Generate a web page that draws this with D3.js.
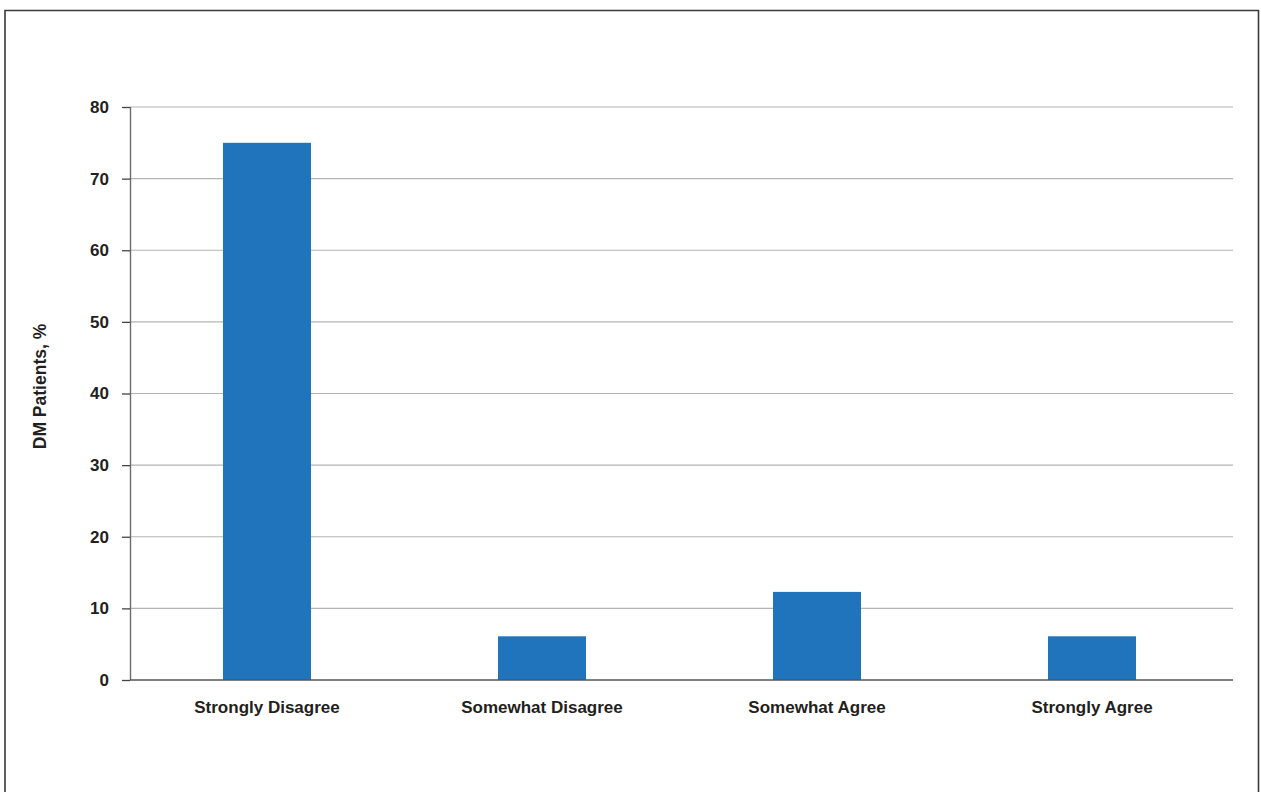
<!DOCTYPE html>
<html>
<head>
<meta charset="utf-8">
<script src="https://cdn.jsdelivr.net/npm/d3@7"></script>
<style>
  html, body { margin: 0; padding: 0; background: #fff; }
  svg { display: block; }
  text { font-family: "Liberation Sans", Arial, sans-serif; fill: #231f20; }
</style>
</head>
<body>
<svg id="chart" width="1261" height="792"></svg>
<script>
// Survey responses, share of DM patients (%)
const categories = ["Strongly Disagree", "Somewhat Disagree", "Somewhat Agree", "Strongly Agree"];
const values = [75, 6.1, 12.3, 6.1];
const yTicks = [0, 10, 20, 30, 40, 50, 60, 70, 80];
const yLabel = "DM Patients, %";

const svg = d3.select("#chart");
const W = 1261, H = 792;
const plot = { left: 130, right: 1233, top: 107, bottom: 680 };

// outer frame (bottom edge runs past the page)
svg.append("path")
  .attr("d", `M5,${H + 5} V10.5 H1258.5 V${H + 5}`)
  .attr("fill", "none")
  .attr("stroke", "#3a3a3a")
  .attr("stroke-width", 1.6);

const x = d3.scaleBand()
  .domain(categories)
  .range([plot.left - 0.5, plot.right - 3.5])
  .paddingInner(0.68)
  .paddingOuter(0.34);

const y = d3.scaleLinear()
  .domain([0, 80])
  .range([plot.bottom, plot.top]);

// horizontal gridlines
svg.append("g")
  .selectAll("line")
  .data(yTicks.filter(d => d > 0))
  .join("line")
  .attr("x1", plot.left)
  .attr("x2", plot.right)
  .attr("y1", d => y(d))
  .attr("y2", d => y(d))
  .attr("stroke", "#b4b4b4")
  .attr("stroke-width", 1.2);

// bars
svg.append("g")
  .selectAll("rect")
  .data(categories)
  .join("rect")
  .attr("x", d => x(d))
  .attr("width", x.bandwidth())
  .attr("y", (d, i) => y(values[i]))
  .attr("height", (d, i) => y(0) - y(values[i]))
  .attr("fill", "#1f74bb");

const labelFont = sel => sel
  .attr("font-size", 17)
  .attr("font-weight", 600)
  .attr("fill", "#262324")
  .style("font-family", "'Liberation Sans', Arial, sans-serif");

// y axis
const yAxis = svg.append("g")
  .attr("transform", `translate(${plot.left},0)`)
  .call(d3.axisLeft(y).tickValues(yTicks).tickSize(8).tickPadding(13).tickFormat(d3.format("d")));
yAxis.select(".domain").attr("stroke", "#6b6b6b").attr("stroke-width", 1.4).attr("d", `M0.5,${y(80)}V${y(0)}`);
yAxis.selectAll(".tick line").attr("stroke", "#444").attr("stroke-width", 1.3);
yAxis.selectAll(".tick text").call(labelFont);

// x baseline
svg.append("line")
  .attr("x1", plot.left)
  .attr("x2", plot.right)
  .attr("y1", y(0))
  .attr("y2", y(0))
  .attr("stroke", "#555")
  .attr("stroke-width", 1.6);

// category labels
const xAxis = svg.append("g")
  .attr("transform", `translate(0,${y(0)})`)
  .call(d3.axisBottom(x).tickSize(0).tickPadding(21));
xAxis.select(".domain").remove();
xAxis.selectAll(".tick text").call(labelFont);

// y axis title
svg.append("text")
  .attr("transform", `translate(46,${(y(0) + y(80)) / 2 - 7}) rotate(-90)`)
  .attr("text-anchor", "middle")
  .attr("font-size", 17.5)
  .attr("font-weight", 600)
  .attr("fill", "#262324")
  .text(yLabel);
</script>
</body>
</html>
